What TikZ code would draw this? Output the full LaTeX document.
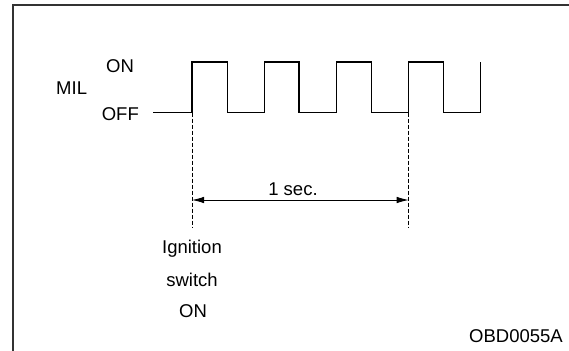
\documentclass[tikz,border=0pt]{standalone}
\usepackage{fontspec}
\setmainfont{Liberation Sans}
\usetikzlibrary{arrows.meta}
\begin{document}
\begin{tikzpicture}[x=1pt,y=-1pt,
  lbl/.style={inner sep=0pt,font=\fontsize{18.5}{21}\selectfont},
  frameline/.style={draw=black!80,line width=1.4pt},
  wave/.style={line width=1.2pt,line join=miter},
  guide/.style={line width=0.7pt,dash pattern=on 4pt off 2pt},
  dimline/.style={line width=0.9pt,{Latex[length=12pt,width=6.5pt]}-{Latex[length=12pt,width=6.5pt]}}]
\useasboundingbox (0,0) rectangle (569,350);
\fill[white] (0,0) rectangle (569,350);
\draw[frameline] (13,351) -- (13,5) -- (570,5);
\node[lbl,anchor=base west] (mil) at (56,95) {MIL};
\node[lbl,anchor=base west] (onlvl) at (106,73) {ON};
\node[lbl,anchor=base east] (offlvl) at (139,120) {OFF};
\coordinate (w0) at (153,112.5);
\coordinate (ta) at (192,112.5);
\coordinate (tb) at (408.7,112.5);
\coordinate (ga) at (192,228);
\coordinate (gb) at (408.7,228);
\coordinate (da) at (192,200);
\coordinate (db) at (408.7,200);
\draw[wave] (w0) -- (ta) -- (192,62) -- (227.7,62) -- (227.7,112.5) -- (264.7,112.5) -- (264.7,62) -- (299,62) -- (299,112.5) -- (336.7,112.5) -- (336.7,62) -- (371.3,62) -- (371.3,112.5) -- (tb) -- (408.7,62) -- (443.3,62) -- (443.3,112.5) -- (480.7,112.5) -- (480.7,62);
\draw[guide] (ta) -- (ga);
\draw[guide] (tb) -- (gb);
\draw[dimline] (da) -- (db);
\node[lbl,anchor=base] (sec) at (293,195) {1 sec.};
\node[lbl,anchor=base] (ign) at (192,253) {Ignition};
\node[lbl,anchor=base] (sw) at (192,286) {switch};
\node[lbl,anchor=base] (ignon) at (193,317) {ON};
\node[lbl,anchor=base east] (code) at (563,342) {OBD0055A};
\end{tikzpicture}
\end{document}
